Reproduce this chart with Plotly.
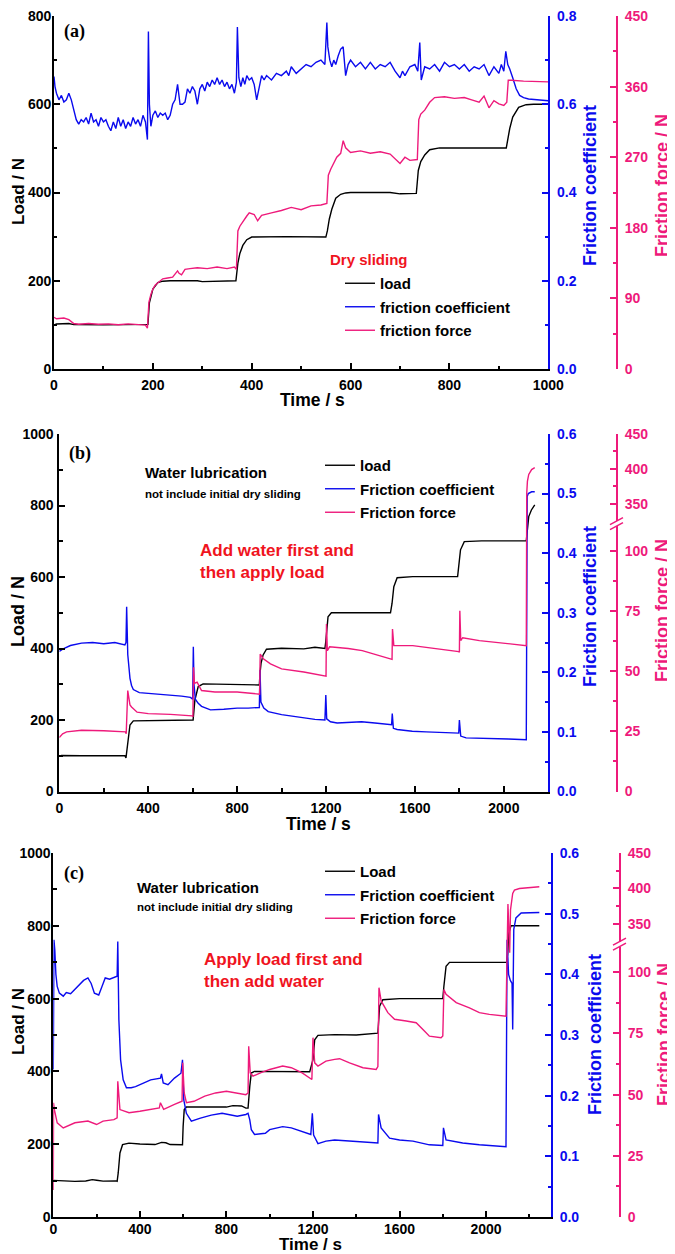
import plotly.graph_objects as go

# The page body has an 8 px margin, so the figure is placed at (8, 8) in the 675x1254 window.
OFF = 8
W, H = 675 - OFF, 1254 - OFF
def px(x): return (x - OFF) / W
def py(y): return min(1.0, max(0.0, 1 - (y - OFF) / H))

BLACK = "#000000"
BLUE = "#0A0AEE"
PINK = "#EE1A7B"
RED = "#F0141E"
SANS = "Liberation Sans, Arial, sans-serif"
SERIF = "Liberation Serif, Times New Roman, serif"

# ---------------- Panel (a): dry sliding ----------------
a_t_load = [0, 5, 30, 40, 100, 185, 190, 193, 200, 210, 220, 235, 290, 300, 368, 372, 376, 382, 390, 400,
            470, 550, 553, 557, 562, 570, 580, 590, 600, 680, 700, 733, 737, 742, 750, 760, 780, 915, 918, 922,
            928, 940, 955, 970, 1000]
a_load = [100, 102, 103, 100.7, 100, 100, 101, 150, 181, 196, 199, 200, 200, 198, 200, 240, 262, 280, 293, 299,
          300, 299, 313, 340, 362, 387, 396, 399, 400, 400, 397, 398, 450, 470, 485, 497, 501, 501, 519, 545,
          571, 593, 599, 600, 600]

a_t_cof = [0, 2, 5, 10, 15, 20, 25, 30, 35, 40, 45, 50, 55, 60, 65, 70, 75, 80, 85, 90,
           95, 100, 105, 110, 115, 120, 125, 130, 135, 140, 145, 150, 155, 160, 165, 170, 175, 180, 185, 189,
           191, 193, 196, 200, 205, 210, 215, 220, 225, 230, 235, 240, 245, 250, 252, 255, 260, 265, 270, 275,
           280, 285, 290, 295, 300, 305, 310, 315, 320, 325, 330, 335, 340, 345, 350, 355, 360, 365, 369, 371,
           374, 378, 382, 386, 390, 395, 400, 405, 410, 415, 420, 425, 430, 440, 450, 460, 470, 475, 480, 490,
           500, 510, 520, 530, 540, 548, 552, 554, 558, 562, 566, 570, 575, 580, 585, 590, 595, 600, 610, 620,
           630, 640, 650, 660, 670, 680, 690, 700, 705, 710, 720, 730, 736, 740, 743, 746, 750, 760, 770, 780,
           790, 800, 810, 820, 830, 840, 850, 860, 870, 880, 890, 900, 905, 910, 914, 918, 922, 928, 935, 942,
           950, 960, 975, 1000]
a_cof = [0.663, 0.64, 0.625, 0.61, 0.62, 0.605, 0.61, 0.625, 0.61, 0.59, 0.565, 0.555, 0.565, 0.56, 0.57, 0.555, 0.58, 0.56, 0.565, 0.55,
         0.57, 0.56, 0.565, 0.55, 0.54, 0.56, 0.545, 0.57, 0.55, 0.565, 0.545, 0.56, 0.55, 0.57, 0.555, 0.565, 0.55, 0.575, 0.56, 0.52,
         0.765, 0.60, 0.55, 0.575, 0.585, 0.57, 0.58, 0.575, 0.58, 0.565, 0.575, 0.60, 0.61, 0.645, 0.62, 0.60, 0.60, 0.605, 0.635, 0.625,
         0.64, 0.63, 0.60, 0.635, 0.645, 0.63, 0.65, 0.64, 0.655, 0.645, 0.66, 0.645, 0.655, 0.64, 0.65, 0.635, 0.645, 0.625, 0.65, 0.775,
         0.66, 0.64, 0.66, 0.645, 0.665, 0.655, 0.66, 0.645, 0.61, 0.64, 0.665, 0.655, 0.665, 0.655, 0.67, 0.665, 0.675, 0.665, 0.685, 0.67,
         0.68, 0.69, 0.685, 0.695, 0.70, 0.69, 0.785, 0.73, 0.70, 0.685, 0.70, 0.69, 0.71, 0.725, 0.73, 0.665, 0.69, 0.70, 0.685, 0.695,
         0.68, 0.695, 0.68, 0.69, 0.685, 0.695, 0.675, 0.66, 0.675, 0.665, 0.685, 0.69, 0.675, 0.74, 0.655, 0.67, 0.685, 0.68, 0.69, 0.675,
         0.695, 0.685, 0.69, 0.68, 0.69, 0.675, 0.685, 0.68, 0.69, 0.665, 0.685, 0.67, 0.69, 0.675, 0.72, 0.69, 0.68, 0.66, 0.635, 0.62,
         0.615, 0.612, 0.61, 0.608]

a_t_ff = [0, 5, 20, 30, 40, 50, 70, 90, 110, 130, 150, 170, 185, 189, 192, 196, 200, 205, 210, 220,
          230, 240, 250, 253, 258, 265, 275, 290, 310, 330, 350, 365, 369, 372, 376, 382, 390, 395, 405, 412,
          420, 440, 460, 480, 500, 520, 540, 552, 555, 560, 566, 572, 580, 585, 590, 600, 620, 640, 660, 680,
          700, 710, 720, 735, 738, 742, 750, 760, 770, 790, 810, 830, 845, 860, 870, 880, 890, 900, 910, 916,
          919, 925, 950, 975, 1000]
a_ff = [66, 64, 65, 63, 58, 57, 58, 57, 57.5, 56.5, 57.5, 57, 56, 52, 85, 95, 102, 107, 110, 115,
        116, 117, 125, 122, 120, 127, 128, 129, 128, 130, 128, 130, 127, 176, 182, 188, 195, 199, 197, 189,
        196, 199, 202, 206, 203, 208, 209, 211, 247, 255, 262, 270, 275, 291, 282, 276, 278, 275, 277, 274,
        262, 270, 266, 267, 318, 325, 330, 340, 346, 347, 345, 346, 343, 340, 348, 333, 342, 338, 336, 340,
        368, 368, 367, 366.5, 366]

# ---------------- Panel (b): water first, then load ----------------
b_t_load = [0, 10, 100, 200, 295, 300, 305, 310, 318, 333, 400, 500, 598, 602, 610, 618, 625, 647, 700, 800,
            900, 903, 908, 917, 932, 1000, 1100, 1150, 1195, 1199, 1203, 1209, 1224, 1300, 1490, 1497, 1505, 1520, 1590, 1792,
            1797, 1805, 1822, 1900, 2101, 2106, 2112, 2124, 2139]
b_load = [98, 100.5, 100, 100, 100, 94, 120, 154, 186, 197.6, 198.5, 199, 200, 200, 256, 280, 293.6, 301, 300, 299,
          298, 331, 360, 382, 398, 400.7, 399, 403.5, 400, 420, 452, 489, 500, 500, 500, 526, 573, 598, 601, 601,
          629, 676, 699, 701, 701, 745, 769, 787.5, 801.5]

b_t_cof = [0, 20, 50, 100, 150, 200, 250, 295, 300, 303, 308, 313, 318, 325, 333, 360, 400, 450, 500, 550,
           590, 600, 603, 606, 612, 625, 640, 680, 740, 800, 850, 900, 903, 907, 920, 940, 1000, 1050, 1100, 1150,
           1195, 1199, 1203, 1220, 1250, 1300, 1360, 1420, 1495, 1498, 1503, 1520, 1588, 1650, 1720, 1797, 1800, 1806, 1830, 1890,
           1950, 2020, 2101, 2103, 2105, 2110, 2125, 2139]
b_cof = [0.235, 0.24, 0.245, 0.249, 0.25, 0.248, 0.25, 0.246, 0.25, 0.31, 0.23, 0.20, 0.19, 0.178, 0.171, 0.166, 0.165, 0.163, 0.162, 0.16,
         0.158, 0.155, 0.243, 0.18, 0.155, 0.148, 0.143, 0.137, 0.138, 0.140, 0.140, 0.141, 0.204, 0.15, 0.14, 0.134, 0.129, 0.126, 0.123, 0.121,
         0.120, 0.162, 0.122, 0.117, 0.115, 0.116, 0.117, 0.115, 0.112, 0.131, 0.106, 0.104, 0.101, 0.100, 0.099, 0.098, 0.120, 0.093, 0.090, 0.089,
         0.088, 0.088, 0.087, 0.30, 0.495, 0.50, 0.503, 0.503]

b_t_ff = [0, 15, 33, 100, 200, 298, 301, 304, 308, 318, 325, 350, 400, 500, 598, 601, 604, 608, 620, 640,
          700, 800, 898, 901, 904, 918, 950, 1000, 1100, 1197, 1200, 1202, 1206, 1216, 1300, 1363, 1490, 1497, 1499, 1505,
          1590, 1700, 1797, 1800, 1802, 1806, 1815, 1890, 2000, 2101, 2103, 2106, 2112, 2125, 2139]
b_ff = [22.5, 24, 24.8, 25.5, 25.3, 24.8, 24, 35, 42, 36, 35.2, 33, 32.4, 32.1, 31.5, 31, 51.7, 45, 45.5, 42,
        41.4, 41.4, 40.7, 40.5, 57.2, 55.2, 53.1, 51, 49.7, 48.3, 48, 69.7, 58.6, 60.2, 59.5, 58.6, 55.2, 55, 67.6, 60.7,
        60.7, 59.5, 58.2, 58, 75.2, 62.8, 64, 62.8, 61.8, 60.7, 365, 382, 392, 399, 401.7]

# ---------------- Panel (c): load first, then water ----------------
c_t_load = [0, 100, 150, 180, 200, 230, 290, 295, 300, 308, 320, 350, 400, 470, 500, 520, 540, 597, 600, 605,
            615, 700, 800, 830, 870, 890, 900, 908, 915, 930, 1000, 1100, 1185, 1200, 1208, 1223, 1300, 1400, 1500, 1508,
            1523, 1600, 1700, 1800, 1805, 1815, 1831, 1950, 2095, 2100, 2105, 2115, 2246]
c_load = [100.7, 98, 99, 102.6, 101, 98.5, 99, 98, 121, 176, 198.7, 203, 200.5, 199, 205, 204, 199, 198.7, 249, 295,
          302, 302, 302, 305.9, 305, 299, 299.5, 359, 395.6, 400, 400, 399, 399, 432, 487, 499, 501, 500, 505, 579,
          597, 600, 599, 600, 634, 688.6, 699.6, 700, 700, 725, 780, 800, 800]

c_t_cof = [0, 1, 3, 7, 12, 18, 28, 46, 60, 80, 100, 120, 140, 160, 175, 190, 210, 225, 240, 260,
           280, 295, 298, 303, 311, 323, 338, 360, 380, 420, 450, 495, 500, 508, 530, 560, 590, 597, 603, 615,
           638, 680, 730, 780, 850, 890, 900, 908, 915, 930, 980, 1000, 1060, 1100, 1150, 1190, 1197, 1203, 1223, 1260,
           1300, 1385, 1492, 1500, 1503, 1515, 1554, 1600, 1662, 1738, 1800, 1803, 1815, 1892, 1969, 2092, 2097, 2104, 2112, 2120,
           2123, 2128, 2138, 2162, 2246]
c_cof = [0.243, 0.40, 0.457, 0.44, 0.40, 0.38, 0.369, 0.364, 0.37, 0.368, 0.375, 0.383, 0.39, 0.394, 0.385, 0.369, 0.366, 0.38, 0.394, 0.392,
         0.395, 0.397, 0.454, 0.325, 0.259, 0.226, 0.213, 0.213, 0.215, 0.222, 0.226, 0.229, 0.236, 0.221, 0.218, 0.229, 0.237, 0.259, 0.193, 0.171,
         0.158, 0.163, 0.168, 0.171, 0.166, 0.169, 0.171, 0.160, 0.144, 0.136, 0.138, 0.144, 0.149, 0.147, 0.141, 0.136, 0.171, 0.135, 0.121, 0.125,
         0.127, 0.125, 0.122, 0.122, 0.169, 0.147, 0.130, 0.127, 0.125, 0.119, 0.118, 0.147, 0.127, 0.122, 0.119, 0.116, 0.457, 0.40, 0.39, 0.385,
         0.309, 0.474, 0.493, 0.501, 0.502]

c_t_ff = [0, 1, 5, 18, 46, 100, 160, 200, 230, 280, 295, 298, 308, 350, 400, 490, 495, 510, 560, 595,
          598, 605, 615, 650, 700, 750, 800, 850, 890, 900, 903, 910, 923, 960, 1000, 1060, 1100, 1150, 1185, 1195,
          1200, 1208, 1223, 1260, 1300, 1323, 1369, 1431, 1492, 1500, 1505, 1515, 1546, 1577, 1631, 1677, 1715, 1738, 1792, 1800,
          1805, 1815, 1862, 1923, 1969, 2015, 2092, 2097, 2101, 2105, 2109, 2113, 2118, 2123, 2131, 2154, 2246]
c_ff = [11, 46.7, 43.9, 38.5, 36.4, 38.5, 39.2, 37.8, 39.2, 39.8, 40.5, 55.5, 43.9, 42.6, 43.2, 44.6, 46.7, 44, 46, 47.3,
        63, 50.7, 46.7, 47.3, 49.4, 50.7, 51.4, 50.7, 50, 50.7, 69.8, 58.9, 57.6, 59, 60.3, 61.7, 61, 58.9, 56.9, 56.2,
        73.3, 63, 61.7, 63.7, 64.4, 64.7, 63, 61, 60.3, 61.5, 93.7, 88.3, 83.5, 80.8, 80.1, 79.4, 76, 73.9, 73.3, 74,
        93, 91, 87.6, 85.5, 83.5, 82.8, 82.1, 355, 378, 345, 108, 370, 385, 393, 397.6, 400, 402.4]

# broken friction-force axis (panels b, c): 0-111.5 N linear, then 321.5-450 N compressed
LOW_TOP, HIGH_BOT, RATIO = 111.5, 321.5, 0.29
def brk(v):
    return v if v <= LOW_TOP else LOW_TOP + max(0.0, v - HIGH_BOT) * RATIO
FF_MAJOR = [0, 25, 50, 75, 100, 350, 400, 450]
FF_MINOR = [12.5, 37.5, 62.5, 87.5, 375, 425]
FF_TOP = brk(450)

fig = go.Figure()

def add_panel(xid, yids, t_load, load, t_cof, cof, t_ff, ff, names, legend, broken):
    fig.add_trace(go.Scatter(x=t_load, y=load, mode="lines", name="<b>%s</b>" % names[0],
                             line=dict(color=BLACK, width=1.4),
                             xaxis=xid, yaxis=yids[0], legend=legend, legendgroup=legend + "1"))
    fig.add_trace(go.Scatter(x=t_cof, y=cof, mode="lines", name="<b>%s</b>" % names[1],
                             line=dict(color=BLUE, width=1.4),
                             xaxis=xid, yaxis=yids[1], legend=legend, legendgroup=legend + "2"))
    yv = [brk(v) for v in ff] if broken else ff
    fig.add_trace(go.Scatter(x=t_ff, y=yv, mode="lines", name="<b>%s</b>" % names[2],
                             line=dict(color=PINK, width=1.4),
                             xaxis=xid, yaxis=yids[2], legend=legend, legendgroup=legend + "3"))

add_panel("x", ["y", "y2", "y3"], a_t_load, a_load, a_t_cof, a_cof, a_t_ff, a_ff,
          ["load", "friction coefficient", "friction force"], "legend", False)
add_panel("x2", ["y4", "y5", "y6"], b_t_load, b_load, b_t_cof, b_cof, b_t_ff, b_ff,
          ["load", "Friction coefficient", "Friction force"], "legend2", True)
add_panel("x3", ["y7", "y8", "y9"], c_t_load, c_load, c_t_cof, c_cof, c_t_ff, c_ff,
          ["Load", "Friction coefficient", "Friction force"], "legend3", True)

def tfont(color):
    return dict(family=SANS, size=14, color=color, weight="bold")

def base_axis(color, lw=1.8, standoff=0):
    return dict(showline=True, linecolor=color, linewidth=lw, showgrid=False, zeroline=False,
                automargin=False, ticklabelstandoff=standoff, ticklabeloverflow="allow",
                ticks="inside", ticklen=6, tickwidth=1.5, tickcolor=color, tickfont=tfont(color))

def minor(dt=None, vals=None, color=BLACK):
    m = dict(ticks="inside", ticklen=3.5, tickwidth=1.5, tickcolor=color, showgrid=False)
    if dt is not None:
        m["dtick"] = dt
    if vals is not None:
        m["tickvals"] = vals
    return m

panels = [
    # x-axis, y-axes, ids, x-domain px, y-domain px, xmax, xdtick, load max, coef max, coef dtick,
    # friction-force axis x, broken?, x tick standoff, load tick standoff
    ("xaxis", ["yaxis", "yaxis2", "yaxis3"], "x", "y", (54, 548.3), (16, 369), 1000, 200, 800, 0.8, 0.2, 617, False, 2, -2),
    ("xaxis2", ["yaxis4", "yaxis5", "yaxis6"], "x2", "y4", (59.3, 548.3), (434, 791.5), 2200, 400, 1000, 0.6, 0.1, 617, True, 3, 1),
    ("xaxis3", ["yaxis7", "yaxis8", "yaxis9"], "x3", "y7", (53.3, 551), (853, 1217), 2300, 400, 1000, 0.6, 0.1, 620, True, -2, -2),
]

layout = dict(width=W, height=H, margin=dict(l=0, r=0, t=0, b=0, pad=0, autoexpand=False),
              paper_bgcolor="white", plot_bgcolor="white", showlegend=True, font=dict(family=SANS))

for xa, ya, xid, yid, xd, yd, xmax, xdt, lmax, cmax, cdt, ffpos, broken, xso, lso in panels:
    xax = base_axis(BLACK, standoff=xso)
    xax.update(domain=[px(xd[0]), px(xd[1])], range=[0, xmax], tick0=0, dtick=xdt,
               minor=minor(dt=xdt / 2), anchor=yid)
    layout[xa] = xax
    ydom = [py(yd[1]), py(yd[0])]
    yl = base_axis(BLACK, standoff=lso)
    yl.update(domain=ydom, range=[0, lmax], tick0=0, dtick=200, minor=minor(dt=100), anchor=xid)
    layout[ya[0]] = yl
    yc = base_axis(BLUE, standoff=4)
    yc.update(range=[0, cmax], tick0=0, dtick=cdt, tickformat=".1f", minor=minor(dt=cdt / 2, color=BLUE),
              overlaying=yid, side="right", anchor=xid)
    layout[ya[1]] = yc
    yf = base_axis(PINK, standoff=4)
    if broken:
        yf.update(range=[0, FF_TOP], tickmode="array", tickvals=[brk(v) for v in FF_MAJOR],
                  ticktext=[str(v) for v in FF_MAJOR],
                  minor=minor(vals=[brk(v) for v in FF_MINOR], color=PINK))
    else:
        yf.update(range=[0, 450], tick0=0, dtick=90, minor=minor(dt=45, color=PINK))
    yf.update(overlaying=yid, side="right", anchor="free", position=px(ffpos))
    layout[ya[2]] = yf

def legend_cfg(x, y):
    return dict(x=px(x), y=py(y), xanchor="left", yanchor="top", bgcolor="rgba(0,0,0,0)",
                font=dict(family=SANS, size=15, color=BLACK, weight="bold"), tracegroupgap=1,
                traceorder="grouped", itemwidth=30)

layout["legend"] = legend_cfg(340, 267)
layout["legend2"] = legend_cfg(320, 449)
layout["legend3"] = legend_cfg(320, 855)

ann = []
def text(x, y, s, size, color=BLACK, family=SANS, angle=0, xanchor="center", yanchor="middle"):
    ann.append(dict(x=px(x), y=py(y), xref="paper", yref="paper", text=s, showarrow=False, textangle=angle,
                    xanchor=xanchor, yanchor=yanchor, align="left", borderpad=0, borderwidth=0,
                    font=dict(family=family, size=size, color=color, weight="bold")))

# panel labels
text(64, 31, "(a)", 18, family=SERIF, xanchor="left")
text(69, 453, "(b)", 18, family=SERIF, xanchor="left")
text(64, 873, "(c)", 18, family=SERIF, xanchor="left")
# axis titles
for (lx, ly, lf), (tx, ty), (cx, cy), (fx, fy) in [
        ((18, 192, 17), (312, 400), (590, 186), (662, 186)),
        ((18, 612, 18), (318, 824), (590, 607), (662, 611)),
        ((18, 1022, 17), (310, None), (595, 1035), (664, 1035))]:
    text(lx, ly, "Load / N", lf, angle=-90)
    if ty is None:
        text(tx, 1254, "Time / s", 17, yanchor="bottom")
    else:
        text(tx, ty, "Time / s", 17.5)
    text(cx, cy, "Friction coefficient", 18, color=BLUE, angle=-90)
    text(fx, fy, "Friction force / N", 18, color=PINK, angle=-90)
# legend heading and notes
text(330, 259, "Dry sliding", 15, color=RED, xanchor="left")
text(145, 473, "Water lubrication", 15, xanchor="left")
text(145, 494, "not include initial dry sliding", 11.5, xanchor="left")
text(200, 561, "Add water first and<br>then apply load", 17, color=RED, xanchor="left")
text(137, 887, "Water lubrication", 15, xanchor="left")
text(137, 907, "not include initial dry sliding", 11.5, xanchor="left")
text(204, 970, "Apply load first and<br>then add water", 17, color=RED, xanchor="left")
layout["annotations"] = ann

# axis-break marks on the friction-force axes of panels (b) and (c)
shapes = []
for yref, pos in [("y6", 617), ("y9", 620)]:
    shapes.append(dict(type="rect", xref="paper", yref=yref, xsizemode="pixel", ysizemode="pixel",
                       xanchor=px(pos), yanchor=LOW_TOP, x0=-3, x1=3, y0=-2.5, y1=2.5,
                       fillcolor="white", line=dict(width=0), layer="above"))
    for dy in (-6, -1):
        shapes.append(dict(type="line", xref="paper", yref=yref, xsizemode="pixel", ysizemode="pixel",
                           xanchor=px(pos), yanchor=LOW_TOP, x0=-7, x1=6, y0=dy, y1=dy + 7,
                           line=dict(color=PINK, width=1.5), layer="above"))
layout["shapes"] = shapes

fig.update_layout(**layout)
fig.write_html("out.html")
